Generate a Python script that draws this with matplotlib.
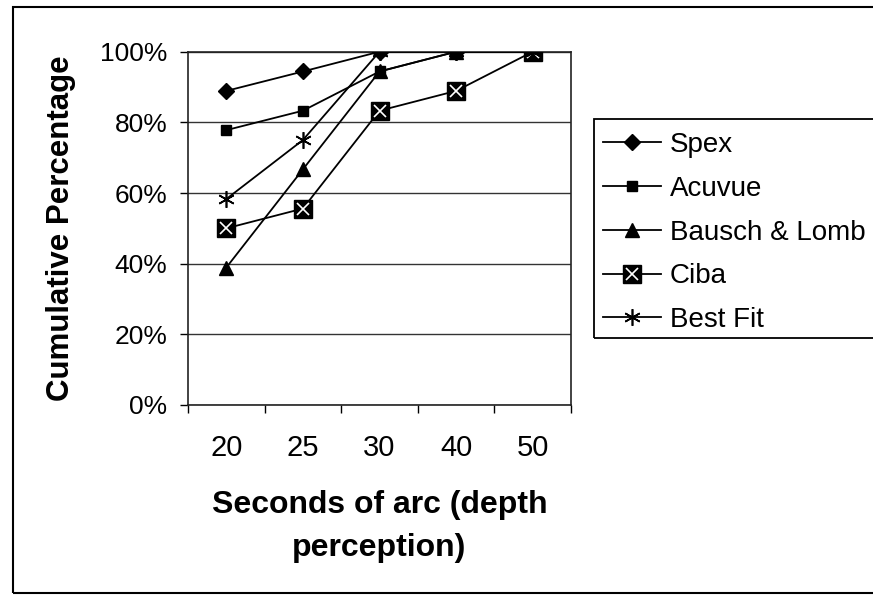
import matplotlib
matplotlib.use("Agg")
import matplotlib.pyplot as plt
from matplotlib.lines import Line2D
from matplotlib.patches import Rectangle
from matplotlib.legend_handler import HandlerTuple
from matplotlib.ticker import FixedLocator, PercentFormatter

plt.rcParams['font.family'] = ['Liberation Sans', 'DejaVu Sans']

categories = ["20", "25", "30", "40", "50"]
spex = [88.9, 94.4, 100, 100, 100]
acuvue = [77.8, 83.3, 94.4, 100, 100]
bausch = [38.9, 66.7, 94.4, 100, 100]
ciba = [50.0, 55.6, 83.3, 88.9, 100]
best_fit = [58.3, 75.0, 100, 100, 100]
y_ticks = [0, 20, 40, 60, 80, 100]

W, H = 873, 596
fig = plt.figure(figsize=(W / 100, H / 100), dpi=100)
ax = fig.add_axes([188 / W, 1 - 405 / H, (571 - 188) / W, (405 - 51.7) / H])

x = list(range(len(categories)))
lw = 1.3
ax.plot(x, spex, color='black', lw=lw, marker='D', ms=8, zorder=3)
ax.plot(x, acuvue, color='black', lw=lw, marker='s', ms=6.5, zorder=3)
ax.plot(x, bausch, color='black', lw=lw, marker='^', ms=9.5, zorder=3)
ax.plot(x, ciba, color='black', lw=lw, marker='s', ms=13, zorder=3)
ax.plot(x, ciba, color='none', lw=0, marker='x', ms=9, mec='white', mew=1.2, zorder=3)
ax.plot(x, best_fit, color='black', lw=lw, marker=(6, 2, 0), ms=12, mew=1.2, zorder=3)

ax.set_xlim(-0.5, len(categories) - 0.5)
ax.set_ylim(0, 100)
ax.set_yticks(y_ticks)
ax.yaxis.set_major_formatter(PercentFormatter(decimals=0))
ax.set_xticks(x)
ax.set_xticklabels(categories)
ax.xaxis.set_minor_locator(FixedLocator([i + 0.5 for i in range(-1, len(categories))]))
ax.tick_params(axis='x', which='major', length=0, pad=21, labelsize=21)
ax.tick_params(axis='x', which='minor', length=6, width=1, direction='out')
ax.tick_params(axis='y', length=6, width=1, direction='out', pad=9, labelsize=19)
ax.grid(axis='y', color='#333333', lw=1)
ax.set_axisbelow(True)
for s in ax.spines.values():
    s.set_color('#222222')
    s.set_linewidth(1.2)

ax.set_ylabel("Cumulative Percentage", fontsize=22.5, fontweight='bold', labelpad=17)
ax.set_xlabel("Seconds of arc (depth\nperception)", fontsize=23, fontweight='bold',
              labelpad=20, linespacing=1.55)

h_spex = Line2D([], [], color='black', lw=lw, marker='D', ms=8)
h_acu = Line2D([], [], color='black', lw=lw, marker='s', ms=6.5)
h_bl = Line2D([], [], color='black', lw=lw, marker='^', ms=9.5)
h_ciba1 = Line2D([], [], color='black', lw=lw, marker='s', ms=13)
h_ciba2 = Line2D([], [], color='none', lw=0, marker='x', ms=9, mec='white', mew=1.2)
h_bf = Line2D([], [], color='black', lw=lw, marker=(6, 2, 0), ms=12, mew=1.2)
leg = fig.legend([h_spex, h_acu, h_bl, (h_ciba1, h_ciba2), h_bf],
                 ["Spex", "Acuvue", "Bausch & Lomb", "Ciba", "Best Fit"],
                 handler_map={tuple: HandlerTuple(ndivide=1)},
                 loc='upper left', bbox_to_anchor=(603 / W, 1 - 132 / H),
                 frameon=False, fontsize=20, handlelength=2.1, handletextpad=0.3,
                 labelspacing=0.64, borderpad=0, borderaxespad=0)

fig.add_artist(Rectangle((594 / W, 1 - 338 / H), (W + 10 - 594) / W, (338 - 119) / H,
                         transform=fig.transFigure, fill=False, ec='black', lw=1.3,
                         clip_on=False))
fig.add_artist(Rectangle((13 / W, 1 - 593 / H), (W + 10 - 13) / W, (593 - 7) / H,
                         transform=fig.transFigure, fill=False, ec='black', lw=1.5,
                         clip_on=False))

fig.savefig("out.png", dpi=100)
